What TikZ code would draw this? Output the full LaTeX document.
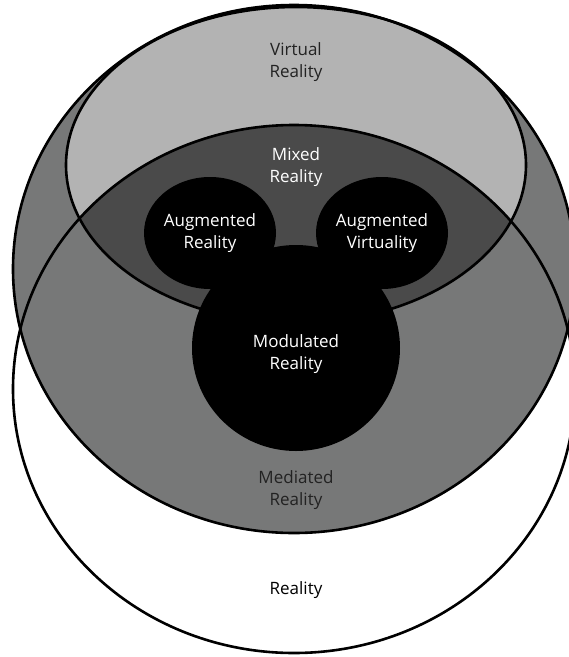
\documentclass[tikz,border=0pt]{standalone}
\usepackage{fontspec}
\setmainfont{Open Sans}
\definecolor{medgray}{HTML}{777878}
\definecolor{vrgray}{HTML}{B3B3B3}
\definecolor{mixgray}{HTML}{4A4A4A}
\definecolor{darktext}{HTML}{222222}
\begin{document}
\begin{tikzpicture}[x=1pt,y=-1pt,
  outline/.style={draw=black,line width=2.6pt},
  lbl/.style={align=center,inner sep=0pt,font=\fontsize{17}{22.5}\selectfont}]
\useasboundingbox (0,0) rectangle (569,657);
% fills
\fill[white] (294,389) ellipse [x radius=281pt, y radius=264pt];
\fill[medgray] (294,269) ellipse [x radius=281pt, y radius=264pt];
\fill[vrgray] (296,165) ellipse [x radius=230pt, y radius=158pt];
\begin{scope}
  \clip (294,389) ellipse [x radius=281pt, y radius=264pt];
  \fill[mixgray] (296,165) ellipse [x radius=230pt, y radius=158pt];
\end{scope}
% outlines
\draw[outline] (294,389) ellipse [x radius=281pt, y radius=264pt];
\draw[outline] (294,269) ellipse [x radius=281pt, y radius=264pt];
\draw[outline] (296,165) ellipse [x radius=230pt, y radius=158pt];
% black shapes
\fill[black] (210,233) ellipse [x radius=66pt, y radius=56pt];
\fill[black] (382,233) ellipse [x radius=66pt, y radius=56pt];
\fill[black] (296,348) ellipse [x radius=104pt, y radius=103pt];
% labels
\node[lbl,text=darktext] (vr) at (296,62) {Virtual\\Reality};
\node[lbl,text=white] (mr) at (296,167) {Mixed\\Reality};
\node[lbl,text=white] (ar) at (210,233) {Augmented\\Reality};
\node[lbl,text=white] (av) at (382,233) {Augmented\\Virtuality};
\node[lbl,text=white] (mod) at (296,354) {Modulated\\Reality};
\node[lbl,text=darktext] (med) at (296,490) {Mediated\\Reality};
\node[lbl,text=black] (real) at (296,590) {Reality};
\end{tikzpicture}
\end{document}
